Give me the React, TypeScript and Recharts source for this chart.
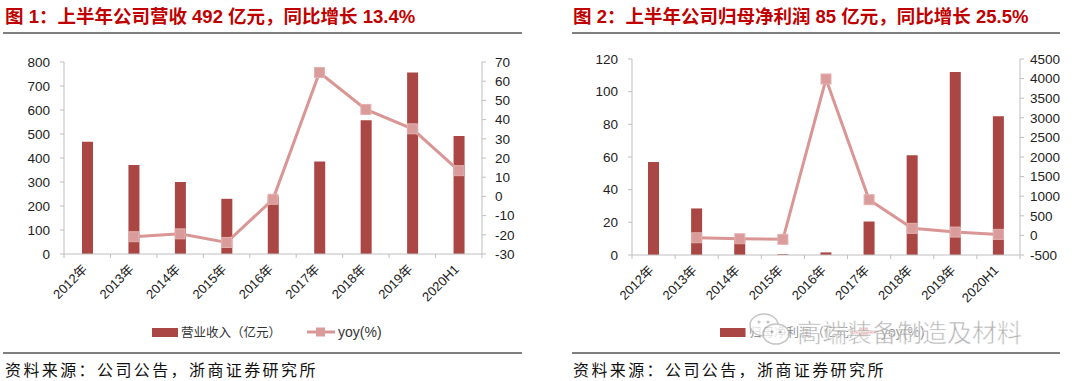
import React from 'react';
import { Bar, ComposedChart, Line, XAxis, YAxis } from 'recharts';

const years = ['2012年', '2013年', '2014年', '2015年', '2016年', '2017年', '2018年', '2019年', '2020H1'];
const revenue = [468, 371, 300, 230, 240, 385, 557, 756, 492];
const revenueYoy = [null, -21, -19.5, -24, -1.5, 64.5, 45.3, 35.2, 13.4];
const profit = [57, 28.5, 9, 0.5, 1.6, 20.5, 61, 112, 85];
const profitYoy = [null, -60, -85, -100, 3990, 910, 180, 85, 25.5];

const revTicksL = [0, 100, 200, 300, 400, 500, 600, 700, 800];
const revTicksR = [-30, -20, -10, 0, 10, 20, 30, 40, 50, 60, 70];
const profitTicksL = [0, 20, 40, 60, 80, 100, 120];
const profitTicksR = [-500, 0, 500, 1000, 1500, 2000, 2500, 3000, 3500, 4000, 4500];

const BAR = '#AA4643';
const LINE = '#D99694';
const AXIS = '#BFBFBF';
const FONT = 'Liberation Sans, Arial, "Noto Sans CJK SC", sans-serif';
const CJK = '"Noto Sans CJK SC", sans-serif';

const revData = years.map((name, i) => ({ name, bar: revenue[i], yoy: revenueYoy[i] }));
const profitData = years.map((name, i) => ({ name, bar: profit[i], yoy: profitYoy[i] }));

const SquareDot = (props: any) => {
  const { cx, cy, value } = props;
  if (value === null || value === undefined || cx == null || cy == null) return <g />;
  return <rect x={cx - 5} y={cy - 5} width={10} height={10} fill="#DA9C9A" stroke="#E3B0AE" strokeWidth={1} />;
};

function makeTick(band: number) {
  return (props: any) => {
    const { x, y, payload, index } = props;
    return (
      <g>
        {index === 0 && <line x1={x - band / 2} x2={x - band / 2} y1={y} y2={y + 4} stroke={AXIS} />}
        <line x1={x + band / 2} x2={x + band / 2} y1={y} y2={y + 4} stroke={AXIS} />
        <text
          x={x + 1}
          y={y + 16}
          textAnchor="end"
          fontSize={13}
          fontFamily={FONT}
          fill="#222"
          transform={`rotate(-45, ${x + 1}, ${y + 16})`}
        >
          {payload.value}
        </text>
      </g>
    );
  };
}

interface PanelProps {
  data: { name: string; bar: number; yoy: number | null }[];
  top: number;
  bottom: number;
  leftW: number;
  rightW: number;
  domainL: number[];
  domainR: number[];
  ticksL: number[];
  ticksR: number[];
  marginR: number;
}

function Panel({ data, top, bottom, leftW, rightW, domainL, domainR, ticksL, ticksR, marginR }: PanelProps) {
  const h = 310;
  const band = (540 - leftW - rightW) / data.length;
  return (
    <ComposedChart width={540} height={h} data={data} margin={{ top, right: 0, left: 0, bottom: 0 }}>
      <XAxis
        dataKey="name"
        height={h - bottom}
        axisLine={{ stroke: AXIS }}
        tickLine={false}
        tickSize={0}
        tickMargin={0}
        interval={0}
        tick={makeTick(band)}
      />
      <YAxis
        yAxisId="l"
        width={leftW}
        domain={domainL}
        ticks={ticksL}
        interval={0}
        axisLine={{ stroke: AXIS }}
        tickLine={{ stroke: AXIS }}
        tickSize={4}
        tickMargin={10}
        tick={{ fontSize: 13.5, fill: '#222', fontFamily: FONT }}
      />
      <YAxis
        yAxisId="r"
        orientation="right"
        width={rightW}
        domain={domainR}
        ticks={ticksR}
        interval={0}
        axisLine={{ stroke: AXIS }}
        tickLine={{ stroke: AXIS }}
        tickSize={4}
        tickMargin={marginR}
        tick={{ fontSize: 13.5, fill: '#222', fontFamily: FONT }}
      />
      <Bar yAxisId="l" dataKey="bar" fill={BAR} barSize={11} isAnimationActive={false} />
      <Line
        yAxisId="r"
        dataKey="yoy"
        stroke={LINE}
        strokeWidth={3}
        dot={<SquareDot />}
        activeDot={false}
        isAnimationActive={false}
      />
    </ComposedChart>
  );
}

function Legend({ x, label, lineX, yoyX }: { x: number; label: string; lineX: number; yoyX: number }) {
  return (
    <g>
      <rect x={x} y={328} width={26} height={9} fill={BAR} />
      <text x={x + 29} y={337} fontSize={12.5} fontFamily={CJK} fill="#333">
        {label}
      </text>
      <line x1={lineX} x2={lineX + 28} y1={332} y2={332} stroke={LINE} strokeWidth={3} />
      <rect x={lineX + 9} y={327.5} width={9} height={9} fill="#DA9C9A" />
      <text x={yoyX} y={337} fontSize={14} fontFamily={FONT} fill="#333">
        yoy(%)
      </text>
    </g>
  );
}

export default function App() {
  return (
    <div style={{ position: 'absolute', left: 0, top: 0, width: 1080, height: 381, background: '#fff', overflow: 'hidden' }}>
      <div style={{ position: 'absolute', left: 0, top: 0 }}>
        <Panel
          data={revData}
          top={62}
          bottom={254}
          leftW={64}
          rightW={58}
          domainL={[0, 800]}
          domainR={[-30, 70]}
          ticksL={revTicksL}
          ticksR={revTicksR}
          marginR={9}
        />
      </div>
      <div style={{ position: 'absolute', left: 540, top: 0 }}>
        <Panel
          data={profitData}
          top={59}
          bottom={255}
          leftW={92}
          rightW={60}
          domainL={[0, 120]}
          domainR={[-500, 4500]}
          ticksL={profitTicksL}
          ticksR={profitTicksR}
          marginR={6}
        />
      </div>
      <svg width={1080} height={381} style={{ position: 'absolute', left: 0, top: 0, pointerEvents: 'none' }}>
        <text x={5} y={23} fontSize={18.5} fontWeight="bold" fontFamily={FONT} fill="#C00000">
          图 1：上半年公司营收 492 亿元，同比增长 13.4%
        </text>
        <text x={573} y={23} fontSize={18.5} fontWeight="bold" fontFamily={FONT} fill="#C00000">
          图 2：上半年公司归母净利润 85 亿元，同比增长 25.5%
        </text>
        <line x1={3} x2={522} y1={33} y2={33} stroke="#7F7F7F" strokeWidth={2} />
        <line x1={572} x2={1060} y1={33} y2={33} stroke="#7F7F7F" strokeWidth={2} />

        <Legend x={152} label="营业收入（亿元）" lineX={307} yoyX={338} />
        <Legend x={720} label="归母净利润（亿元）" lineX={850} yoyX={881} />

        {/* watermark over the second legend */}
        <g opacity={0.85}>
          <rect x={745} y={312} width={285} height={36} fill="#fff" opacity={0.55} />
          <ellipse cx={764} cy={325} rx={14} ry={11} fill="#fff" stroke="#bbb" strokeWidth={1.5} />
          <ellipse cx={776} cy={334} rx={13} ry={10} fill="#fff" stroke="#bbb" strokeWidth={1.5} />
          <circle cx={759} cy={322} r={1.6} fill="#bbb" />
          <circle cx={768} cy={322} r={1.6} fill="#bbb" />
          <circle cx={772} cy={332} r={1.4} fill="#bbb" />
          <circle cx={780} cy={332} r={1.4} fill="#bbb" />
          <text x={797} y={342} fontSize={25} fontFamily={CJK} fill="#A8A8A8" stroke="#fff" strokeWidth={0.6}>
            高端装备制造及材料
          </text>
        </g>

        <line x1={3} x2={522} y1={353} y2={353} stroke="#7F7F7F" strokeWidth={2} />
        <line x1={572} x2={1060} y1={353} y2={353} stroke="#7F7F7F" strokeWidth={2} />
        <text x={5} y={376} fontSize={16} letterSpacing={2.4} fontFamily={CJK} fill="#111">
          资料来源：公司公告，浙商证券研究所
        </text>
        <text x={573} y={376} fontSize={16} letterSpacing={2.4} fontFamily={CJK} fill="#111">
          资料来源：公司公告，浙商证券研究所
        </text>
      </svg>
    </div>
  );
}
